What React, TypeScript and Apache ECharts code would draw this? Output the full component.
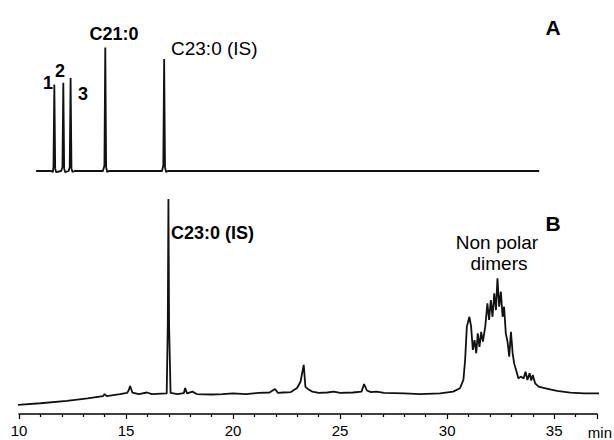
import React, { useEffect, useRef } from "react";
import * as echarts from "echarts";

// Retention time axis (min)
const X_MIN = 10;
const X_MAX = 37;
const X_INTERVAL = 5;
const X_UNIT = "min";

// Trace A: standard mixture (time, relative signal)
const traceA: [number, number][] = [
  [10.8, 0], [11.5, 0], [11.58, -0.8], [11.61, 3], [11.65, 66], [11.69, 2], [11.73, -0.8],
  [11.97, 0], [12.03, 3], [12.07, 67.3], [12.11, 2], [12.15, -0.8],
  [12.32, 0], [12.37, 3], [12.41, 71], [12.45, 2], [12.5, -0.8], [12.6, 0],
  [13.92, 0], [13.99, 4], [14.03, 94.3], [14.07, 3], [14.12, -0.8], [14.2, 0],
  [16.68, 0], [16.74, 4], [16.78, 85.5], [16.82, 3], [16.87, -0.8], [16.95, 0],
  [25, 0], [34.3, 0],
];

// Trace B: sample (time, relative signal)
const traceB: [number, number][] = [
  [9.81, 4.0], [11.0, 4.8], [12.24, 5.9], [13.2, 7.0], [13.93, 8.0], [14.0, 8.9], [14.1, 8.0],
  [14.72, 8.9], [15.05, 9.4], [15.12, 10.5], [15.19, 12.5], [15.3, 9.5], [15.6, 8.9],
  [15.98, 9.6], [16.2, 8.9], [16.9, 9.2], [16.95, 40], [16.98, 96.0], [17.01, 40], [17.08, 9.4],
  [17.4, 8.9], [17.7, 9.3], [17.76, 11.6], [17.85, 9.2], [18.1, 10.0], [18.3, 8.9],
  [19.0, 8.7], [19.5, 8.9], [20.0, 9.2], [20.6, 8.9], [21.2, 9.4], [21.7, 9.6],
  [21.96, 11.2], [22.1, 9.4], [22.35, 9.6], [22.7, 9.8], [22.99, 11.6], [23.15, 14.4],
  [23.3, 21.9], [23.38, 12.1], [23.53, 10.9], [23.7, 10.0], [24.0, 9.4], [24.4, 9.6],
  [24.7, 10.0], [25.0, 9.4], [25.6, 9.6], [26.0, 10.0], [26.12, 13.4], [26.25, 10.5],
  [26.44, 9.8], [26.7, 10.0], [27.06, 9.4], [28.0, 9.2], [28.74, 8.9], [29.67, 9.2],
  [30.28, 10.0], [30.6, 11.5], [30.76, 15.2], [30.84, 24.1], [30.92, 39.0], [31.04, 43.4],
  [31.12, 39.0], [31.2, 28.6], [31.28, 33.0], [31.36, 27.1], [31.43, 36.0], [31.51, 30.0],
  [31.59, 36.7], [31.67, 32.3], [31.78, 39.0], [31.88, 49.4], [31.96, 42.0], [32.04, 50.9],
  [32.12, 43.4], [32.2, 53.9], [32.28, 46.4], [32.35, 60.6], [32.43, 47.9], [32.51, 54.6],
  [32.59, 43.4], [32.66, 47.9], [32.74, 36.0], [32.82, 32.3], [32.9, 25.6], [32.98, 36.7],
  [33.06, 27.1], [33.13, 22.6], [33.22, 19.6], [33.33, 15.9], [33.44, 16.7], [33.57, 15.9],
  [33.66, 18.9], [33.75, 15.2], [33.85, 18.2], [33.93, 14.9], [34.0, 17.4], [34.11, 13.7],
  [34.27, 12.2], [34.5, 11.7], [34.81, 11.0], [35.13, 10.3], [35.75, 9.5], [36.4, 9.2],
  [37.24, 9.2],
];

const FONT = "'Liberation Sans', Arial, sans-serif";

export default function App() {
  const ref = useRef<HTMLDivElement>(null);

  useEffect(() => {
    document.body.style.margin = "0";
    if (!ref.current) return;
    const chart = echarts.init(ref.current, undefined, { renderer: "svg" });

    const txt = (
      text: string,
      x: number,
      y: number,
      size: number,
      bold: boolean,
      align: "left" | "center" | "right" = "center"
    ) => ({
      type: "text",
      x,
      y,
      style: {
        text,
        fill: "#000",
        font: `${bold ? "bold " : ""}${size}px ${FONT}`,
        textAlign: align,
        textVerticalAlign: "middle",
        verticalAlign: "middle",
      },
    });

    chart.setOption({
      animation: false,
      backgroundColor: "#fff",
      grid: [
        { left: 19, right: 17, top: 40, height: 131 },
        { left: 19, right: 17, top: 190, height: 224 },
      ],
      xAxis: [
        { gridIndex: 0, type: "value", min: X_MIN, max: X_MAX, show: false },
        {
          gridIndex: 1,
          type: "value",
          min: X_MIN,
          max: X_MAX,
          interval: X_INTERVAL,
          axisLine: { show: true, lineStyle: { color: "#000", width: 1.5 } },
          axisTick: { show: true, length: 5, lineStyle: { color: "#000", width: 1.2 } },
          minorTick: { show: true, splitNumber: 5, length: 3, lineStyle: { color: "#000", width: 1.2 } },
          splitLine: { show: false },
          axisLabel: {
            color: "#000",
            fontSize: 15,
            fontFamily: FONT,
            margin: 9,
            formatter: (v: number) => (v % X_INTERVAL === 0 ? String(v) : ""),
          },
        },
      ],
      yAxis: [
        { gridIndex: 0, type: "value", min: 0, max: 100, show: false },
        { gridIndex: 1, type: "value", min: 0, max: 100, show: false },
      ],
      series: [
        {
          type: "line",
          xAxisIndex: 0,
          yAxisIndex: 0,
          data: traceA,
          showSymbol: false,
          symbol: "none",
          clip: false,
          lineStyle: { color: "#111", width: 1.8 },
        },
        {
          type: "line",
          xAxisIndex: 1,
          yAxisIndex: 1,
          data: traceB,
          showSymbol: false,
          symbol: "none",
          clip: false,
          lineStyle: { color: "#111", width: 1.8 },
        },
      ],
      graphic: [
        txt("1", 48, 83, 18, true),
        txt("2", 60, 71, 18, true),
        txt("3", 83, 94, 18, true),
        txt("C21:0", 114, 34, 18, true),
        txt("C23:0 (IS)", 171, 48, 19, false, "left"),
        txt("A", 553, 27, 21, true),
        txt("B", 553, 223, 21, true),
        txt("C23:0 (IS)", 171, 233, 18, true, "left"),
        txt("Non polar", 497, 242, 19, false),
        txt("dimers", 499, 263, 19, false),
        txt(X_UNIT, 612, 432, 15, false, "right"),
      ],
    });

    return () => chart.dispose();
  }, []);

  return <div ref={ref} style={{ width: 614, height: 440 }} />;
}
